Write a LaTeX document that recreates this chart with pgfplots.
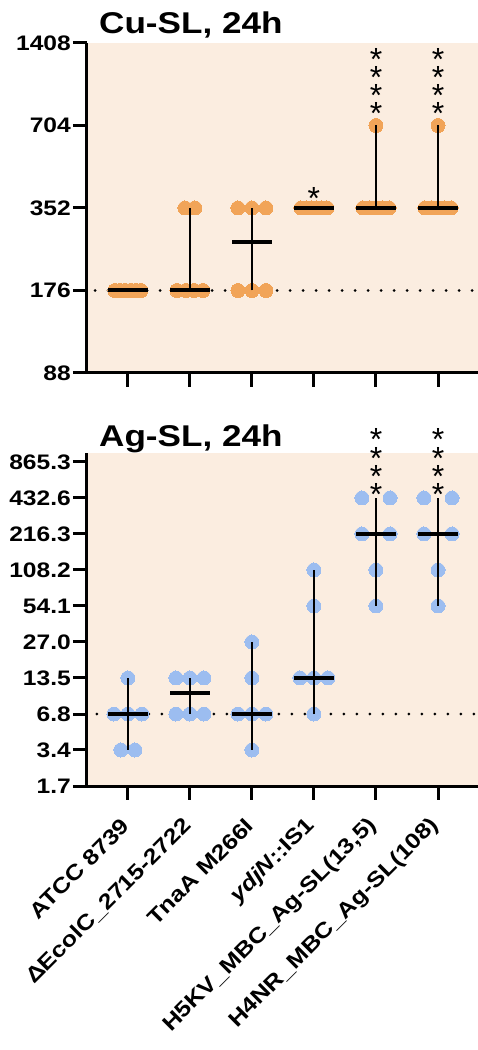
\documentclass[border=0pt]{standalone}
\usepackage{pgfplots}
\pgfplotsset{compat=1.18}
\usepackage{fontspec}
\setmainfont{Liberation Sans}[FakeStretch=1.17]
\newfontfamily\starfont{Liberation Sans}
\definecolor{cuor}{RGB}{241,164,88}
\definecolor{agbl}{RGB}{156,189,240}
\definecolor{bgc}{RGB}{251,237,224}
\tikzset{
 dotline/.style={black, line width=3pt, line cap=round, dash pattern=on 0pt off 13pt},
 errbar/.style={black, line width=1.8pt},
 medline/.style={black, line width=4pt},
 star/.style={anchor=base, inner sep=0, font=\starfont\fontsize{32}{32}\selectfont},
}
\begin{document}
\begin{tikzpicture}
\useasboundingbox (0pt,0pt) rectangle (478pt,1050pt);

\node[anchor=base west, inner sep=0] at (99pt,1016.7pt) {\fontsize{30}{36}\selectfont\bfseries Cu-SL, 24h};
\node[anchor=base west, inner sep=0] at (99pt,603.3pt) {\fontsize{30}{36}\selectfont\bfseries Ag-SL, 24h};

\begin{axis}[scale only axis, width=391pt, height=330pt,
  anchor=south west, at={(87pt,677pt)},
  axis x line*=bottom, axis y line*=left,
  axis line style={line width=3pt},
  xmin=-0.66, xmax=5.645,
  xtick={0,1,2,3,4,5}, xticklabels={},
  ymode=log, log basis y=2,
  tick align=outside,
  major tick length=14pt,
  every tick/.style={black, line width=3pt},
  tick label style={font=\fontsize{21}{24}\selectfont\bfseries},
  yticklabel style={inner sep=2pt},
  axis background/.style={fill=bgc},
  clip=false, clip marker paths=true,
  ymin=88, ymax=1408,
  ytick={88,176,352,704,1408}, yticklabels={88,176,352,704,1408}]
\addplot[dotline] coordinates {(-0.53,176)(5.645,176)};
\addplot[only marks, mark=*, mark size=7pt, color=cuor, mark options={fill=cuor, draw=cuor, line width=0pt}] coordinates {
(-0.21,176)(-0.126,176)(-0.042,176)(0.042,176)(0.126,176)(0.21,176)
(0.92,352)(1.08,352)(0.79,176)(0.93,176)(1.07,176)(1.21,176)
(1.774,352)(2,352)(2.226,352)(1.774,176)(2,176)(2.226,176)
(2.79,352)(2.874,352)(2.958,352)(3.042,352)(3.126,352)(3.21,352)
(3.79,352)(3.895,352)(4,352)(4.105,352)(4.21,352)(4,704)
(4.79,352)(4.895,352)(5,352)(5.105,352)(5.21,352)(5,704)
};
\addplot[errbar] coordinates {(1,176)(1,352)};
\addplot[errbar] coordinates {(2,176)(2,352)};
\addplot[errbar] coordinates {(4,352)(4,704)};
\addplot[errbar] coordinates {(5,352)(5,704)};
\addplot[medline] coordinates {(-0.32,176)(0.32,176)};
\addplot[medline] coordinates {(0.68,176)(1.32,176)};
\addplot[medline] coordinates {(1.68,264)(2.32,264)};
\addplot[medline] coordinates {(2.68,352)(3.32,352)};
\addplot[medline] coordinates {(3.68,352)(4.32,352)};
\addplot[medline] coordinates {(4.68,352)(5.32,352)};
\node[star, yshift=0.6pt] at (axis cs:4,704) {*};
\node[star, yshift=18.6pt] at (axis cs:4,704) {*};
\node[star, yshift=36.6pt] at (axis cs:4,704) {*};
\node[star, yshift=54.6pt] at (axis cs:4,704) {*};
\node[star, yshift=0.6pt] at (axis cs:5,704) {*};
\node[star, yshift=18.6pt] at (axis cs:5,704) {*};
\node[star, yshift=36.6pt] at (axis cs:5,704) {*};
\node[star, yshift=54.6pt] at (axis cs:5,704) {*};
\node[star, yshift=-1.4pt] at (axis cs:3,352) {*};
\end{axis}

\begin{axis}[scale only axis, width=391pt, height=333pt,
  anchor=south west, at={(87pt,264pt)},
  axis x line*=bottom, axis y line*=left,
  axis line style={line width=3pt},
  xmin=-0.66, xmax=5.645,
  xtick={0,1,2,3,4,5},
  ymode=log, log basis y=2,
  tick align=outside,
  major tick length=14pt,
  every tick/.style={black, line width=3pt},
  tick label style={font=\fontsize{21}{24}\selectfont\bfseries},
  yticklabel style={inner sep=2pt},
  axis background/.style={fill=bgc},
  clip=false, clip marker paths=true,
  ymin=1.69, ymax=1029,
  ytick={1.69,3.38,6.76,13.52,27.04,54.08,108.16,216.32,432.64,865.28},
  yticklabels={1.7,3.4,6.8,13.5,27.0,54.1,108.2,216.3,432.6,865.3},
  xticklabels={{ATCC 8739},{ΔEcolC\_2715-2722},{TnaA M266I},{\textit{ydjN}::IS1},{H5KV\_MBC\_Ag-SL(13,5)},{H4NR\_MBC\_Ag-SL(108)}},
  xticklabel shift=20pt,
  x tick label style={rotate=45, anchor=east, inner sep=3pt, font=\fontsize{21.5}{24}\selectfont\bfseries}]
\addplot[dotline] coordinates {(-0.5,6.76)(5.645,6.76)};
\addplot[only marks, mark=*, mark size=7pt, color=agbl, mark options={fill=agbl, draw=agbl, line width=0pt}] coordinates {
(-0.226,6.76)(0,6.76)(0.226,6.76)(0,13.52)(-0.113,3.38)(0.113,3.38)
(0.774,13.52)(1,13.52)(1.226,13.52)(0.774,6.76)(1,6.76)(1.226,6.76)
(1.774,6.76)(2,6.76)(2.226,6.76)(2,3.38)(2,13.52)(2,27.04)
(2.774,13.52)(3,13.52)(3.226,13.52)(3,6.76)(3,54.08)(3,108.16)
(3.774,432.64)(4.226,432.64)(3.774,216.32)(4.226,216.32)(4,108.16)(4,54.08)
(4.774,432.64)(5.226,432.64)(4.774,216.32)(5.226,216.32)(5,108.16)(5,54.08)
};
\addplot[errbar] coordinates {(0,3.38)(0,13.52)};
\addplot[errbar] coordinates {(1,6.76)(1,13.52)};
\addplot[errbar] coordinates {(2,3.38)(2,27.04)};
\addplot[errbar] coordinates {(3,6.76)(3,108.16)};
\addplot[errbar] coordinates {(4,54.08)(4,432.64)};
\addplot[errbar] coordinates {(5,54.08)(5,432.64)};
\addplot[medline] coordinates {(-0.32,6.76)(0.32,6.76)};
\addplot[medline] coordinates {(0.68,10.14)(1.32,10.14)};
\addplot[medline] coordinates {(1.68,6.76)(2.32,6.76)};
\addplot[medline] coordinates {(2.68,13.52)(3.32,13.52)};
\addplot[medline] coordinates {(3.68,216.32)(4.32,216.32)};
\addplot[medline] coordinates {(4.68,216.32)(5.32,216.32)};
\node[star, yshift=-7.4pt] at (axis cs:4,432.64) {*};
\node[star, yshift=10.6pt] at (axis cs:4,432.64) {*};
\node[star, yshift=28.6pt] at (axis cs:4,432.64) {*};
\node[star, yshift=47.6pt] at (axis cs:4,432.64) {*};
\node[star, yshift=-7.4pt] at (axis cs:5,432.64) {*};
\node[star, yshift=10.6pt] at (axis cs:5,432.64) {*};
\node[star, yshift=28.6pt] at (axis cs:5,432.64) {*};
\node[star, yshift=47.6pt] at (axis cs:5,432.64) {*};
\end{axis}
\end{tikzpicture}
\end{document}
